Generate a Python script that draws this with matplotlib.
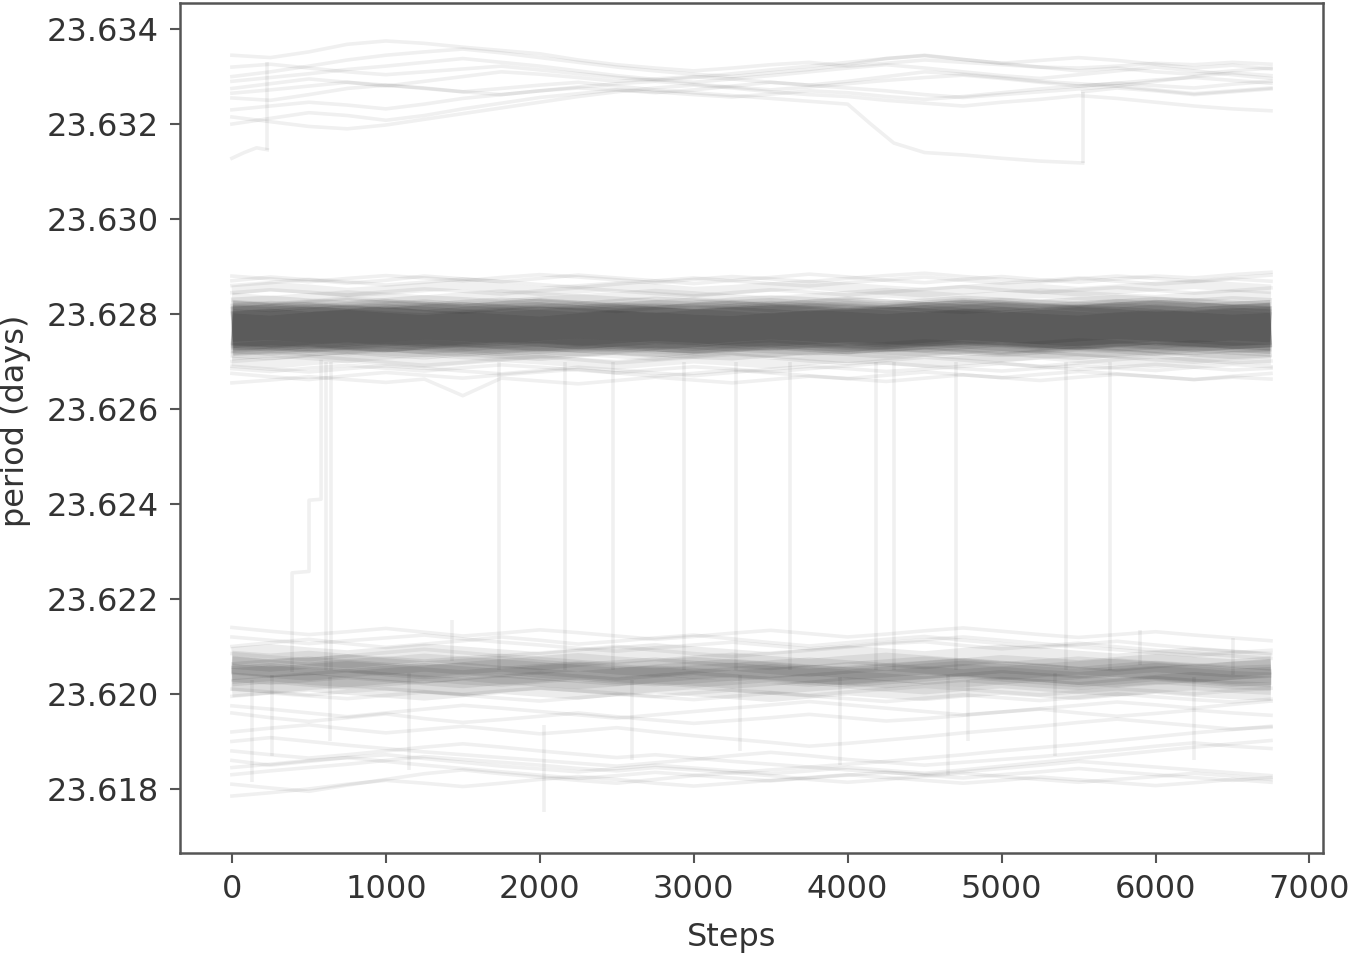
# MCMC trace of the period parameter, one line per walker

import numpy as np
import matplotlib.pyplot as plt

# knots every 250 steps, 0 .. 6750
steps = np.arange(0, 6751, 250)

# walker values in units of 1e-5 days above 23.6
BASE = 23.6
UNIT = 1e-5

# upper mode (faint)
top_walkers = [
    [3345, 3340, 3352, 3368, 3375, 3370, 3362, 3355, 3348, 3335, 3325, 3318, 3312, 3318, 3325, 3330, 3322, 3328, 3335, 3330, 3325, 3320, 3318, 3322, 3328, 3325, 3330, 3326],
    [3300, 3310, 3322, 3335, 3345, 3352, 3358, 3350, 3340, 3330, 3320, 3312, 3305, 3300, 3308, 3315, 3325, 3338, 3345, 3336, 3328, 3320, 3312, 3318, 3310, 3305, 3312, 3318],
    [3275, 3285, 3295, 3288, 3280, 3290, 3300, 3310, 3305, 3298, 3290, 3295, 3300, 3295, 3288, 3282, 3290, 3300, 3310, 3305, 3298, 3290, 3285, 3280, 3290, 3300, 3308, 3302],
    [3255, 3250, 3262, 3275, 3282, 3276, 3268, 3262, 3270, 3278, 3285, 3290, 3284, 3278, 3272, 3278, 3285, 3292, 3298, 3303, 3296, 3288, 3280, 3286, 3293, 3298, 3292, 3286],
    [3230, 3238, 3246, 3240, 3232, 3242, 3254, 3262, 3270, 3276, 3272, 3268, 3262, 3257, 3263, 3270, 3266, 3258, 3252, 3258, 3266, 3274, 3280, 3286, 3281, 3276, 3284, 3290],
    [3200, 3212, 3224, 3218, 3208, 3218, 3232, 3244, 3256, 3264, 3272, 3266, 3272, 3280, 3288, 3282, 3276, 3270, 3262, 3256, 3262, 3268, 3274, 3280, 3272, 3264, 3270, 3276],
    [3215, 3205, 3195, 3190, 3198, 3210, 3222, 3234, 3246, 3258, 3268, 3276, 3282, 3276, 3268, 3262, 3258, 3250, 3244, 3238, 3246, 3252, 3260, 3254, 3246, 3238, 3232, 3228],
    [3290, 3298, 3306, 3315, 3322, 3330, 3338, 3330, 3322, 3312, 3302, 3294, 3288, 3295, 3302, 3310, 3318, 3325, 3318, 3310, 3302, 3296, 3304, 3312, 3320, 3312, 3304, 3296],
    [3320, 3326, 3318, 3310, 3304, 3310, 3316, 3322, 3314, 3306, 3298, 3292, 3298, 3306, 3314, 3322, 3330, 3338, 3344, 3336, 3328, 3334, 3340, 3334, 3326, 3318, 3324, 3316],
]

# walkers in the upper mode that wander off and come back
top_low_steps = [0, 80, 160, 230]
top_low_vals = [3128, 3140, 3150, 3146]
drift_steps = [0, 250, 500, 750, 1000, 1250, 1500, 1750, 2000, 2250, 2500, 2750, 3000, 3250, 3500, 3750, 4000,
               4150, 4300, 4500, 4750, 5000, 5250, 5527]
drift_vals = [3265, 3272, 3280, 3288, 3282, 3275, 3268, 3275, 3282, 3288, 3280, 3272, 3266, 3260, 3254, 3248, 3242,
              3200, 3160, 3140, 3135, 3128, 3122, 3118]
drift2_steps = [5527, 5750, 6000, 6250, 6500, 6750]
drift2_vals = [3268, 3276, 3270, 3262, 3268, 3274]

# main mode, dense core
core_walkers = [
    [2772, 2768, 2775, 2770, 2766, 2772, 2778, 2774, 2769, 2765, 2770, 2776, 2773, 2768, 2771, 2777, 2774, 2769, 2766, 2772, 2778, 2775, 2770, 2767, 2773, 2779, 2774, 2770],
    [2760, 2765, 2758, 2763, 2769, 2762, 2757, 2764, 2770, 2766, 2760, 2755, 2762, 2768, 2764, 2759, 2763, 2769, 2765, 2760, 2756, 2762, 2768, 2764, 2758, 2761, 2767, 2763],
    [2780, 2776, 2782, 2787, 2781, 2776, 2783, 2788, 2784, 2779, 2785, 2790, 2786, 2780, 2777, 2783, 2788, 2784, 2779, 2782, 2787, 2783, 2778, 2784, 2789, 2785, 2780, 2783],
    [2768, 2774, 2779, 2773, 2767, 2762, 2768, 2774, 2778, 2772, 2766, 2770, 2776, 2781, 2775, 2770, 2765, 2771, 2777, 2782, 2776, 2771, 2774, 2779, 2773, 2768, 2772, 2777],
    [2755, 2750, 2757, 2762, 2756, 2751, 2758, 2753, 2748, 2755, 2761, 2757, 2752, 2749, 2756, 2762, 2758, 2753, 2759, 2764, 2759, 2754, 2750, 2757, 2762, 2757, 2752, 2756],
    [2788, 2792, 2786, 2781, 2787, 2793, 2789, 2784, 2790, 2795, 2790, 2785, 2781, 2788, 2793, 2789, 2784, 2780, 2786, 2792, 2788, 2783, 2789, 2794, 2790, 2786, 2791, 2787],
    [2775, 2781, 2777, 2771, 2766, 2773, 2779, 2784, 2778, 2773, 2778, 2783, 2779, 2774, 2769, 2775, 2781, 2776, 2782, 2787, 2781, 2776, 2771, 2777, 2783, 2778, 2773, 2776],
    [2764, 2759, 2765, 2771, 2775, 2769, 2764, 2758, 2763, 2769, 2774, 2768, 2763, 2767, 2773, 2768, 2762, 2767, 2772, 2766, 2761, 2767, 2773, 2769, 2764, 2759, 2765, 2768],
    [2770, 2774, 2769, 2765, 2771, 2776, 2771, 2767, 2773, 2778, 2773, 2768, 2764, 2770, 2776, 2771, 2767, 2773, 2779, 2774, 2769, 2765, 2771, 2776, 2771, 2767, 2772, 2769],
    [2782, 2777, 2772, 2778, 2784, 2779, 2774, 2780, 2786, 2781, 2776, 2771, 2777, 2783, 2787, 2781, 2776, 2772, 2778, 2784, 2779, 2774, 2780, 2785, 2780, 2775, 2779, 2782],
    [2758, 2763, 2769, 2764, 2759, 2755, 2761, 2767, 2762, 2757, 2763, 2768, 2764, 2759, 2754, 2760, 2766, 2761, 2756, 2762, 2768, 2763, 2758, 2754, 2760, 2766, 2761, 2757],
    [2776, 2771, 2767, 2773, 2779, 2784, 2778, 2772, 2767, 2772, 2778, 2774, 2769, 2775, 2781, 2776, 2771, 2766, 2772, 2778, 2783, 2777, 2772, 2778, 2783, 2778, 2773, 2777],
]

# main mode, edges of the core
halo_walkers = [
    [2850, 2858, 2852, 2845, 2850, 2856, 2862, 2855, 2848, 2853, 2859, 2854, 2847, 2851, 2857, 2862, 2856, 2850, 2845, 2851, 2857, 2853, 2847, 2852, 2858, 2863, 2857, 2852],
    [2700, 2694, 2702, 2708, 2701, 2696, 2703, 2709, 2704, 2698, 2693, 2700, 2706, 2701, 2695, 2702, 2708, 2703, 2697, 2702, 2708, 2714, 2707, 2701, 2696, 2702, 2707, 2703],
    [2835, 2828, 2834, 2840, 2835, 2829, 2836, 2842, 2837, 2831, 2837, 2843, 2838, 2832, 2827, 2833, 2839, 2845, 2839, 2833, 2838, 2844, 2839, 2834, 2830, 2836, 2841, 2837],
    [2712, 2719, 2713, 2707, 2714, 2720, 2715, 2709, 2716, 2722, 2717, 2711, 2718, 2724, 2718, 2712, 2707, 2713, 2719, 2714, 2709, 2715, 2721, 2716, 2710, 2705, 2712, 2717],
    [2820, 2814, 2821, 2827, 2822, 2816, 2810, 2817, 2823, 2818, 2812, 2819, 2825, 2820, 2814, 2821, 2827, 2821, 2815, 2810, 2816, 2822, 2817, 2811, 2818, 2824, 2819, 2815],
    [2728, 2734, 2729, 2723, 2730, 2736, 2731, 2726, 2732, 2738, 2733, 2727, 2722, 2729, 2735, 2730, 2725, 2731, 2737, 2732, 2727, 2733, 2739, 2734, 2728, 2735, 2730, 2726],
]

# main mode, stray walkers
fringe_walkers = [
    [2870, 2878, 2872, 2865, 2871, 2880, 2874, 2868, 2875, 2882, 2876, 2870, 2864, 2871, 2877, 2884, 2878, 2871, 2866, 2873, 2879, 2872, 2867, 2874, 2880, 2876, 2883, 2888],
    [2675, 2668, 2662, 2670, 2677, 2671, 2665, 2672, 2678, 2684, 2676, 2669, 2675, 2682, 2676, 2670, 2664, 2671, 2678, 2672, 2666, 2673, 2679, 2674, 2668, 2662, 2669, 2675],
    [2860, 2866, 2873, 2868, 2861, 2867, 2874, 2869, 2862, 2856, 2863, 2870, 2876, 2870, 2864, 2859, 2866, 2872, 2878, 2871, 2865, 2870, 2876, 2869, 2863, 2868, 2874, 2869],
    [2690, 2684, 2678, 2685, 2691, 2686, 2680, 2674, 2681, 2688, 2682, 2676, 2670, 2677, 2684, 2690, 2685, 2679, 2684, 2690, 2696, 2689, 2683, 2688, 2694, 2688, 2682, 2686],
    [2655, 2661, 2668, 2662, 2656, 2663, 2628, 2665, 2659, 2653, 2660, 2667, 2661, 2655, 2662, 2669, 2664, 2658, 2665, 2672, 2666, 2660, 2667, 2673, 2668, 2662, 2667, 2663],
    [2880, 2874, 2868, 2875, 2881, 2876, 2870, 2877, 2883, 2878, 2872, 2866, 2873, 2879, 2874, 2868, 2875, 2881, 2886, 2879, 2873, 2867, 2874, 2880, 2875, 2869, 2876, 2882],
    [2700, 2706, 2712, 2705, 2699, 2692, 2698, 2705, 2711, 2704, 2697, 2703, 2709, 2715, 2708, 2701, 2695, 2702, 2709, 2703, 2696, 2690, 2697, 2704, 2710, 2703, 2697, 2701],
    [2845, 2851, 2846, 2840, 2847, 2853, 2848, 2842, 2849, 2855, 2849, 2843, 2838, 2845, 2851, 2846, 2840, 2846, 2852, 2858, 2851, 2845, 2851, 2856, 2850, 2844, 2849, 2855],
    [2685, 2679, 2686, 2692, 2686, 2680, 2687, 2693, 2688, 2682, 2676, 2683, 2689, 2684, 2678, 2685, 2691, 2697, 2691, 2685, 2680, 2686, 2692, 2686, 2681, 2688, 2694, 2689],
]

# lower mode, dense part
low_walkers = [
    [2062, 2054, 2058, 2064, 2056, 2050, 2055, 2061, 2053, 2047, 2052, 2058, 2051, 2046, 2052, 2058, 2052, 2046, 2051, 2057, 2051, 2045, 2050, 2056, 2050, 2044, 2049, 2053],
    [2040, 2046, 2038, 2033, 2040, 2046, 2039, 2034, 2041, 2047, 2040, 2035, 2041, 2047, 2040, 2034, 2040, 2046, 2039, 2033, 2039, 2045, 2038, 2032, 2038, 2044, 2037, 2033],
    [2072, 2066, 2072, 2065, 2059, 2066, 2060, 2054, 2061, 2067, 2060, 2055, 2062, 2068, 2061, 2055, 2062, 2068, 2062, 2056, 2063, 2058, 2052, 2059, 2065, 2059, 2054, 2060],
    [2026, 2020, 2027, 2033, 2026, 2020, 2015, 2022, 2028, 2022, 2016, 2023, 2029, 2023, 2017, 2024, 2030, 2024, 2018, 2025, 2031, 2025, 2019, 2014, 2021, 2027, 2021, 2017],
    [2048, 2054, 2060, 2053, 2047, 2041, 2048, 2054, 2048, 2042, 2036, 2043, 2049, 2055, 2049, 2043, 2037, 2044, 2050, 2056, 2050, 2044, 2038, 2045, 2051, 2046, 2040, 2043],
    [2035, 2041, 2034, 2028, 2035, 2041, 2047, 2040, 2034, 2029, 2035, 2041, 2036, 2030, 2036, 2042, 2037, 2031, 2038, 2044, 2038, 2032, 2027, 2034, 2040, 2035, 2029, 2026],
    [2060, 2053, 2047, 2054, 2060, 2054, 2060, 2066, 2059, 2053, 2047, 2053, 2059, 2053, 2047, 2041, 2048, 2054, 2060, 2054, 2048, 2054, 2060, 2054, 2048, 2042, 2049, 2055],
    [2045, 2038, 2044, 2050, 2044, 2037, 2031, 2038, 2044, 2050, 2044, 2038, 2032, 2038, 2044, 2038, 2032, 2039, 2045, 2051, 2045, 2039, 2033, 2039, 2046, 2040, 2034, 2038],
    [2080, 2086, 2079, 2073, 2080, 2087, 2081, 2075, 2069, 2076, 2082, 2088, 2081, 2075, 2069, 2076, 2083, 2077, 2071, 2078, 2085, 2079, 2072, 2066, 2073, 2079, 2074, 2068],
    [2012, 2018, 2024, 2017, 2011, 2005, 2012, 2019, 2013, 2007, 2014, 2020, 2014, 2008, 2002, 2009, 2016, 2010, 2004, 2011, 2017, 2012, 2006, 2013, 2019, 2013, 2008, 2005],
]

# lower mode, edges and the spread tail below it
low_fringe_walkers = [
    [2100, 2108, 2115, 2106, 2098, 2105, 2112, 2120, 2113, 2105, 2111, 2118, 2124, 2116, 2108, 2101, 2108, 2115, 2121, 2113, 2106, 2098, 2104, 2111, 2103, 2096, 2090, 2085],
    [2085, 2078, 2072, 2080, 2087, 2094, 2087, 2080, 2086, 2093, 2100, 2092, 2085, 2079, 2086, 2092, 2099, 2106, 2110, 2102, 2095, 2101, 2107, 2099, 2092, 2086, 2080, 2075],
    [2120, 2113, 2106, 2112, 2118, 2124, 2116, 2109, 2103, 2096, 2090, 2097, 2103, 2109, 2102, 2095, 2101, 2108, 2114, 2120, 2113, 2106, 2099, 2093, 2087, 2081, 2087, 2092],
    [1995, 2002, 1996, 1990, 1997, 2004, 1998, 1991, 1985, 1992, 1999, 1994, 1988, 1995, 2002, 1996, 1990, 1984, 1991, 1998, 1992, 1986, 1993, 2000, 1994, 1988, 1983, 1989],
    [2010, 2004, 1998, 2005, 2011, 2005, 1999, 2006, 2012, 2007, 2001, 1995, 2002, 2008, 2003, 1997, 2004, 2010, 2016, 2010, 2004, 1998, 2005, 2011, 2006, 2000, 2007, 2012],
    [1960, 1950, 1942, 1950, 1958, 1948, 1940, 1946, 1953, 1960, 1952, 1945, 1938, 1944, 1950, 1957, 1950, 1943, 1948, 1955, 1962, 1968, 1960, 1953, 1959, 1966, 1960, 1955],
    [1920, 1928, 1935, 1926, 1918, 1925, 1932, 1924, 1916, 1922, 1929, 1920, 1912, 1905, 1898, 1890, 1896, 1903, 1910, 1918, 1925, 1932, 1940, 1947, 1940, 1933, 1926, 1930],
    [1860, 1850, 1858, 1866, 1872, 1864, 1856, 1848, 1842, 1836, 1843, 1850, 1844, 1838, 1832, 1838, 1845, 1839, 1833, 1840, 1848, 1856, 1864, 1872, 1880, 1888, 1895, 1902],
    [1810, 1802, 1795, 1808, 1820, 1832, 1840, 1832, 1825, 1818, 1812, 1820, 1828, 1834, 1828, 1820, 1814, 1820, 1827, 1833, 1826, 1820, 1814, 1820, 1826, 1833, 1827, 1820],
    [1785, 1792, 1800, 1810, 1818, 1812, 1805, 1812, 1820, 1826, 1820, 1812, 1806, 1812, 1818, 1824, 1830, 1824, 1818, 1812, 1818, 1825, 1819, 1813, 1807, 1813, 1820, 1814],
    [1830, 1838, 1845, 1852, 1860, 1868, 1862, 1856, 1850, 1843, 1838, 1845, 1840, 1834, 1840, 1846, 1840, 1835, 1830, 1836, 1843, 1850, 1858, 1852, 1846, 1840, 1834, 1828],
    [1880, 1872, 1865, 1872, 1880, 1888, 1895, 1888, 1880, 1873, 1866, 1872, 1865, 1858, 1852, 1846, 1852, 1858, 1865, 1872, 1880, 1887, 1894, 1902, 1910, 1918, 1925, 1932],
    [1900, 1908, 1900, 1892, 1885, 1878, 1872, 1866, 1860, 1854, 1848, 1855, 1862, 1870, 1877, 1870, 1862, 1856, 1850, 1856, 1862, 1868, 1875, 1882, 1890, 1897, 1890, 1885],
    [1975, 1968, 1960, 1952, 1960, 1968, 1976, 1970, 1963, 1956, 1949, 1956, 1963, 1970, 1977, 1984, 1977, 1970, 1963, 1956, 1962, 1969, 1976, 1983, 1977, 1970, 1978, 1985],
    [1845, 1852, 1860, 1866, 1858, 1850, 1843, 1836, 1829, 1822, 1828, 1835, 1829, 1823, 1817, 1823, 1829, 1835, 1829, 1823, 1830, 1836, 1843, 1836, 1830, 1824, 1818, 1824],
    [2140, 2132, 2125, 2131, 2138, 2130, 2122, 2128, 2135, 2129, 2122, 2115, 2121, 2128, 2134, 2127, 2120, 2126, 2133, 2139, 2132, 2125, 2119, 2125, 2131, 2124, 2118, 2112],
]

# single-step jumps: (step, from, to)
jump_steps = [612, 645, 1738, 2161, 2474, 2936, 3275, 3626, 4186, 4303, 4701, 5417, 5703,
              230, 5527,
              130, 260, 640, 1150, 1432, 2030, 2600, 3300, 3950, 4650, 4780, 5350, 5900, 6250, 6500]
jump_from = [2050, 2050, 2050, 2050, 2050, 2050, 2050, 2050, 2050, 2050, 2050, 2050, 2050,
             3146, 3118,
             2030, 2040, 2035, 2045, 2070, 1935, 2030, 2040, 2035, 2040, 2030, 2045, 2060, 2035, 2040]
jump_to = [2700, 2700, 2700, 2700, 2700, 2700, 2700, 2700, 2700, 2700, 2700, 2700, 2700,
           3330, 3268,
           1815, 1870, 1900, 1840, 2156, 1752, 1860, 1880, 1850, 1830, 1900, 1870, 2135, 1860, 2118]

# walker that climbs out of the lower mode in stages
stair_steps = [391, 391, 501, 501, 579, 579]
stair_vals = [2050, 2255, 2258, 2408, 2410, 2700]


def per(v):
    return BASE + np.asarray(v) * UNIT


fig = plt.figure(figsize=(13.49, 9.59), dpi=100)
ax = fig.add_axes([0.1334, 0.1105, 0.8473, 0.8864])

thin = dict(color="k", alpha=0.06, lw=2.6)

for w in top_walkers:
    ax.plot(steps, per(w), **thin)
ax.plot(top_low_steps, per(top_low_vals), **thin)
ax.plot(drift_steps, per(drift_vals), **thin)
ax.plot(drift2_steps, per(drift2_vals), **thin)

for w in core_walkers:
    ax.plot(steps, per(w), color="k", alpha=0.08, lw=32, solid_capstyle="butt")
for w in halo_walkers:
    ax.plot(steps, per(w), color="k", alpha=0.06, lw=7, solid_capstyle="butt")
for w in fringe_walkers:
    ax.plot(steps, per(w), **thin)

for w in low_walkers:
    ax.plot(steps, per(w), color="k", alpha=0.075, lw=13, solid_capstyle="butt")
for w in low_fringe_walkers:
    ax.plot(steps, per(w), **thin)

ax.vlines(jump_steps, per(jump_from), per(jump_to), colors="k", alpha=0.06, lw=2.6)
ax.plot(stair_steps, per(stair_vals), **thin)

ax.set_xlim(-337.5, 7087.5)
ax.set_ylim(23.61665, 23.63455)
ax.set_yticks([23.618, 23.620, 23.622, 23.624, 23.626, 23.628, 23.630, 23.632, 23.634])
ax.yaxis.set_major_formatter(plt.FormatStrFormatter("%.3f"))

ax.set_xlabel("Steps", fontsize=23, color="#333333")
ax.set_ylabel("period (days)", fontsize=23, color="#333333")
ax.xaxis.set_label_coords(0.483, -0.081)
ax.yaxis.set_label_coords(-0.130, 0.509)
ax.tick_params(labelsize=23, labelcolor="#333333", color="#555555", length=7, width=1.5, pad=8)
for s in ax.spines.values():
    s.set_color("#555555")
    s.set_linewidth(1.8)

fig.savefig("out.png", dpi=100)
